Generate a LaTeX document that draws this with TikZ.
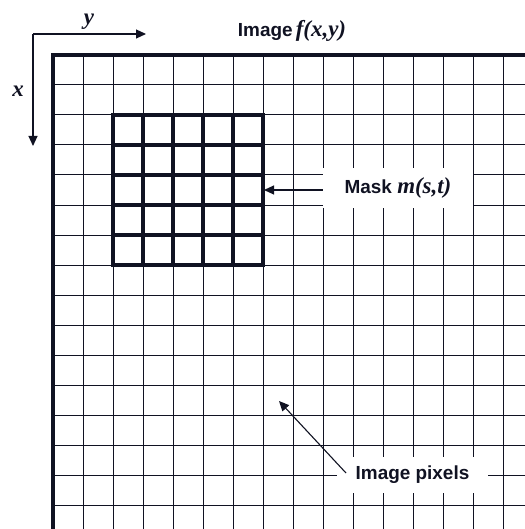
\documentclass[tikz,border=0pt]{standalone}
\usepackage{fontspec}
\setmainfont{Liberation Sans}
\newfontfamily\varfont{Liberation Serif}
\usetikzlibrary{arrows.meta}
\definecolor{ink}{RGB}{16,18,34}
\newcommand{\bvar}[1]{{\varfont\fontsize{23}{25}\selectfont\bfseries\itshape #1}}
\tikzset{
  thingrid/.style={draw=ink, line width=1.0bp},
  thickline/.style={draw=ink, line width=3.6bp, line cap=rect, line join=miter},
  pointer/.style={draw=ink, line width=1.1bp, -{Triangle[length=10bp,width=9bp]}},
  labelbox/.style={fill=white, inner sep=0pt, font=\fontsize{19}{22}\selectfont\bfseries, text=ink},
  axislabel/.style={inner sep=0pt, text=ink}
}
\begin{document}
\begin{tikzpicture}[x=1bp,y=-1bp]
\useasboundingbox (0,0) rectangle (525,529);
\fill[white] (0,0) rectangle (525,529);
\begin{scope}
\clip (0,0) rectangle (525,529);
% thin grid
\foreach \k in {1,...,16} {
  \draw[thingrid] ({53+30*\k},55) -- ({53+30*\k},540);
  \draw[thingrid] (53,{55+30*\k}) -- (540,{55+30*\k});
}
% image border
\draw[thickline] (53,540) -- (53,55) -- (540,55);
% mask
\foreach \k in {0,...,5} {
  \draw[thickline] ({113+30*\k},115) -- ({113+30*\k},265);
  \draw[thickline] (113,{115+30*\k}) -- (263,{115+30*\k});
}
\end{scope}
% axes
\coordinate (org) at (33,34);
\coordinate (yend) at (146,34);
\coordinate (xend) at (33,146);
\draw[pointer] (org) -- (yend);
\draw[pointer] (org) -- (xend);
\node[axislabel] (ylab) at (89,22) {\bvar{y}};
\node[axislabel] (xlab) at (18,91) {\bvar{x}};
% title
\node[labelbox, fill=none] (title) at (292,31) {Image\,\bvar{f(x,y)}};
% mask label
\node[labelbox, minimum width=150bp, minimum height=40bp] (masklab) at (398,188) {Mask \bvar{m(s,t)}};
\coordinate (maskpt) at (264,190);
\draw[pointer] (masklab.west |- maskpt) -- (maskpt);
% pixels label
\node[labelbox, minimum width=151bp, minimum height=36bp] (pixlab) at (412.5,475) {Image pixels};
\coordinate (pixstart) at (346,473);
\coordinate (pixpt) at (279,401);
\draw[pointer] (pixstart) -- (pixpt);
\end{tikzpicture}
\end{document}
